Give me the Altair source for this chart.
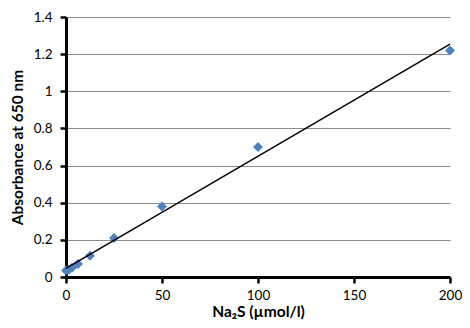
import altair as alt
import pandas as pd

conc = [0, 1.5625, 3.125, 6.25, 12.5, 25, 50, 100, 200]
absorb = [0.035, 0.04, 0.05, 0.07, 0.115, 0.21, 0.38, 0.70, 1.22]
y_ticks = [0, 0.2, 0.4, 0.6, 0.8, 1.0, 1.2, 1.4]
x_ticks = [0, 50, 100, 150, 200]

df = pd.DataFrame({"x": conc, "y": absorb})
FONT = "Lato"

xenc = alt.X("x:Q", scale=alt.Scale(domain=[0, 200], nice=False),
             axis=alt.Axis(values=x_ticks, tickCount=10, title="Na₂S (µmol/l)", grid=False,
                           labelOverlap=False, labelFlush=False,
                           domainColor="black", domainWidth=3, tickColor="black",
                           tickWidth=2.5, tickSize=6, labelPadding=5, titlePadding=3))
yenc = alt.Y("y:Q", scale=alt.Scale(domain=[0, 1.4], nice=False),
             axis=alt.Axis(values=y_ticks, tickCount=10, title="Absorbance at 650 nm",
                           labelExpr="format(datum.value, '.1~f')",
                           labelOverlap=False, labelFlush=False,
                           grid=True, gridColor="#8c8c8c", gridWidth=1.2,
                           domainColor="black", domainWidth=3, tickColor="black",
                           tickWidth=2.5, tickSize=6, labelPadding=8, titlePadding=8))

points = alt.Chart(df).mark_point(shape="diamond", filled=True, size=100,
                                  color="#4F81BD", opacity=1).encode(x=xenc, y=yenc)
line = alt.Chart(df).transform_regression("x", "y", extent=[0, 200]).mark_line(
    color="black", strokeWidth=1.5).encode(x="x:Q", y="y:Q")

chart = alt.layer(points, line).properties(
    width=454, height=312,
    autosize=alt.AutoSizeParams(type="fit", contains="padding"),
    padding={"left": 2, "top": 2, "right": 0, "bottom": 0},
).configure_view(stroke=None).configure_axis(
    labelFont=FONT, titleFont=FONT, labelFontSize=13.5,
    titleFontSize=15.5, titleFontWeight="bold",
    labelColor="black", titleColor="black")

chart.save("out.html", embed_options={"renderer": "svg", "actions": False})
